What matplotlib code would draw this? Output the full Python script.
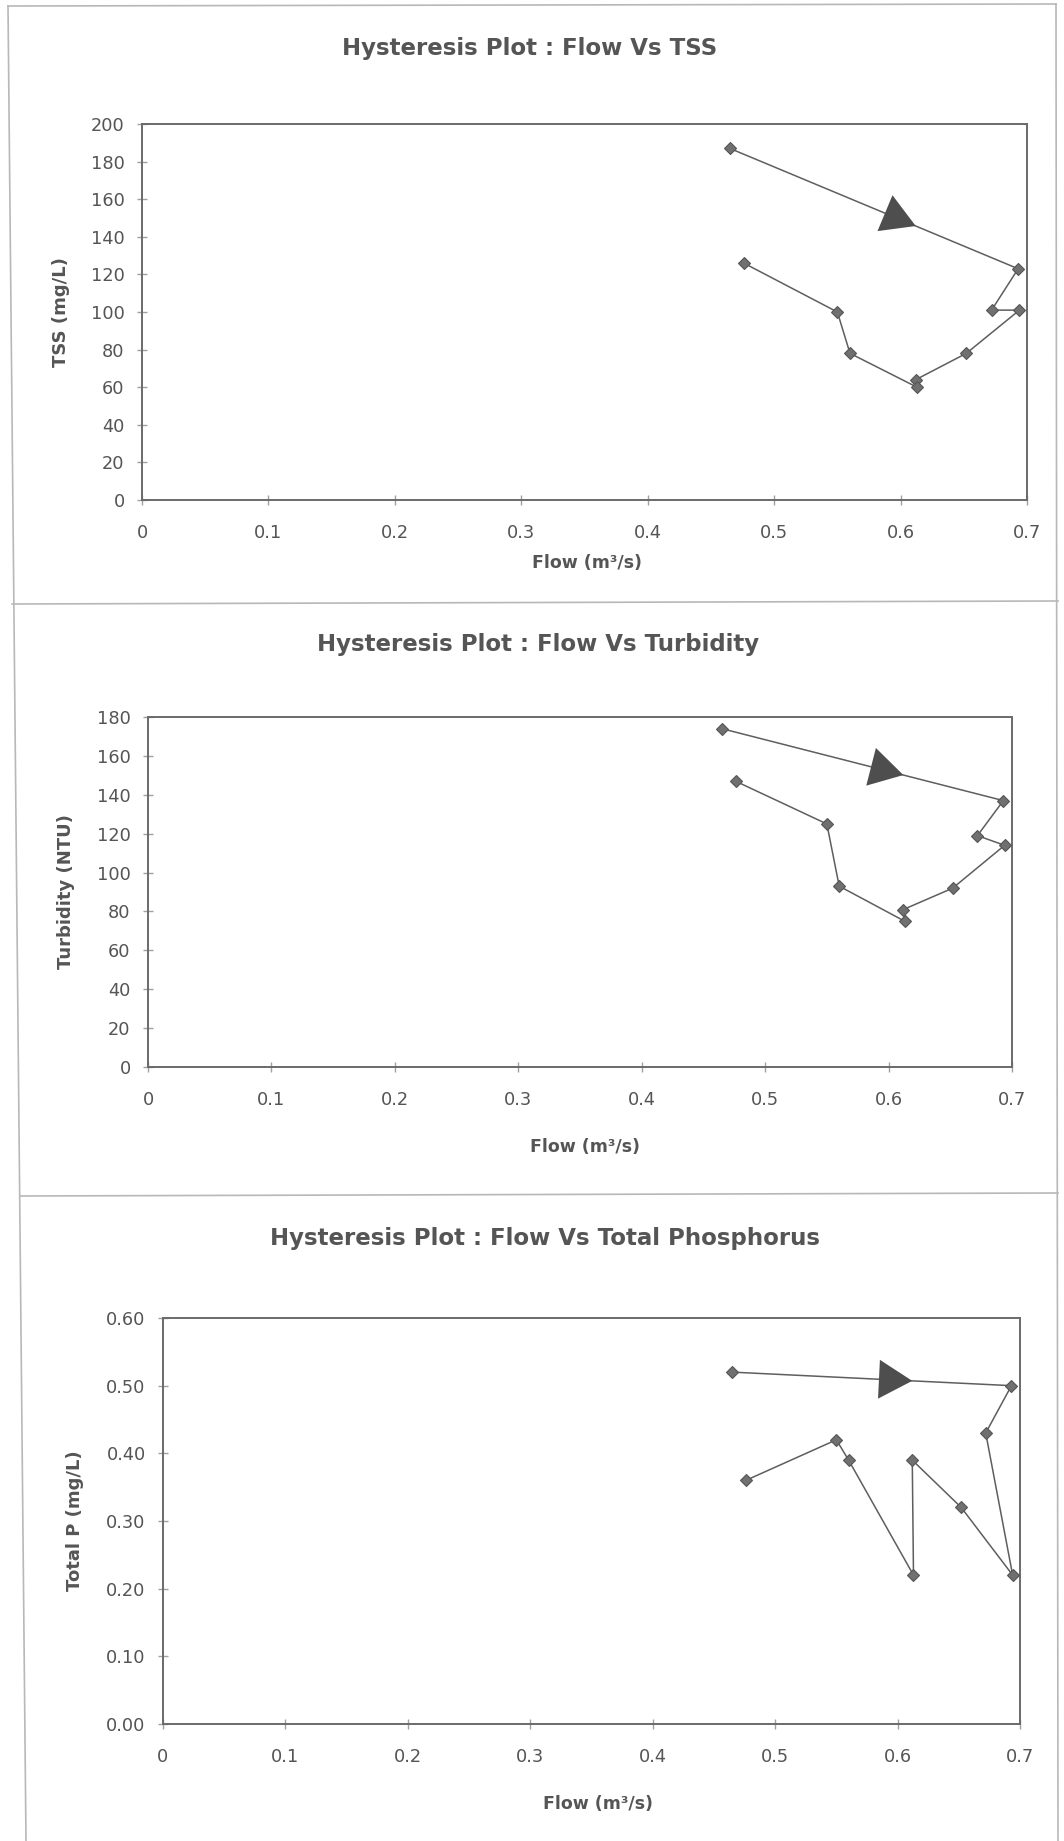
import numpy as np
import matplotlib.pyplot as plt
from matplotlib.lines import Line2D

plt.rcParams['font.family'] = ['DejaVu Sans']

# data (same storm event, same flow series)
flow = [0.465, 0.693, 0.672, 0.694, 0.652, 0.612, 0.613, 0.560, 0.550, 0.476]
tss = [187, 123, 101, 101, 78, 64, 60, 78, 100, 126]
turbidity = [174, 137, 119, 114, 92, 81, 75, 93, 125, 147]
total_p = [0.52, 0.50, 0.43, 0.22, 0.32, 0.39, 0.22, 0.39, 0.42, 0.36]

x_ticks = [0, 0.1, 0.2, 0.3, 0.4, 0.5, 0.6, 0.7]
x_tick_labels = ["0", "0.1", "0.2", "0.3", "0.4", "0.5", "0.6", "0.7"]
tss_ticks = [0, 20, 40, 60, 80, 100, 120, 140, 160, 180, 200]
turb_ticks = [0, 20, 40, 60, 80, 100, 120, 140, 160, 180]
tp_ticks = [0.0, 0.1, 0.2, 0.3, 0.4, 0.5, 0.6]
tp_tick_labels = ["0.00", "0.10", "0.20", "0.30", "0.40", "0.50", "0.60"]

titles = ["Hysteresis Plot : Flow Vs TSS",
          "Hysteresis Plot : Flow Vs Turbidity",
          "Hysteresis Plot : Flow Vs Total Phosphorus"]
ylabels = ["TSS (mg/L)", "Turbidity (NTU)", "Total P (mg/L)"]
xlabel = "Flow (m\u00b3/s)"
arrow_flow = 0.612  # arrow head tip sits on the rising limb at this flow

W, H = 1064, 1841
fig = plt.figure(figsize=(W / 100, H / 100), dpi=100)
fig.patch.set_facecolor("white")

grey_txt = "#555555"
line_col = "#5e5e5e"


def px(x, y):
    return x / W, 1 - y / H


# page / box lines of the scanned sheet
def page_line(x0, y0, x1, y1):
    a = px(x0, y0)
    b = px(x1, y1)
    fig.add_artist(Line2D([a[0], b[0]], [a[1], b[1]], color="#b8b8b8", lw=1.2))


page_line(8, 6, 1056, 4)
page_line(8, 6, 26, 1841)
page_line(1056, 4, 1058, 1841)
page_line(12, 604, 1058, 601)
page_line(20, 1196, 1058, 1193)


def panel(box, yvals, yticks, ylabels_txt, title, ylabel, title_xy, xlabel_xy, ylabel_xy):
    l, t, r, b = box
    ax = fig.add_axes([l / W, 1 - b / H, (r - l) / W, (b - t) / H])
    ax.plot(flow, yvals, color=line_col, lw=1.1, marker="D", ms=6.5,
            mfc="#707070", mec="#555555", mew=0.8, zorder=3, clip_on=False)

    # direction arrow on the first segment
    tip_y = np.interp(arrow_flow, flow[:2], yvals[:2])
    back_x = arrow_flow - 0.03
    back_y = np.interp(back_x, flow[:2], yvals[:2])
    ax.annotate("", xy=(arrow_flow, tip_y), xytext=(back_x, back_y),
                arrowprops=dict(arrowstyle="-|>,head_length=1.2,head_width=0.7",
                                color="#4e4e4e", lw=0, shrinkA=0, shrinkB=0,
                                mutation_scale=20), zorder=4)

    ax.set_xlim(0, 0.7)
    ax.set_ylim(0, yticks[-1])
    ax.set_xticks(x_ticks)
    ax.set_xticklabels(x_tick_labels)
    ax.set_yticks(yticks)
    ax.set_yticklabels(ylabels_txt)
    for s in ax.spines.values():
        s.set_color("#6a6a6a")
        s.set_linewidth(1.4)
    ax.tick_params(axis="both", direction="inout", length=7, width=1,
                   color="#a0a0a0", labelsize=12.8, labelcolor=grey_txt)
    ax.tick_params(axis="x", pad=14)
    ax.tick_params(axis="y", pad=9)

    fig.text(*px(*title_xy), title, ha="center", va="center",
             fontsize=16.5, fontweight="bold", color=grey_txt)
    fig.text(*px(*xlabel_xy), xlabel, ha="center", va="center",
             fontsize=12.5, fontweight="bold", color=grey_txt)
    fig.text(*px(*ylabel_xy), ylabel, ha="center", va="center", rotation=90,
             fontsize=13, fontweight="bold", color=grey_txt)
    return ax


panel((142, 124, 1027, 500), tss, tss_ticks, [str(v) for v in tss_ticks],
      titles[0], ylabels[0], (530, 49), (587, 563), (61, 312))
panel((148, 717, 1012, 1067), turbidity, turb_ticks, [str(v) for v in turb_ticks],
      titles[1], ylabels[1], (538, 645), (585, 1147), (66, 892))
panel((163, 1318, 1020, 1724), total_p, tp_ticks, tp_tick_labels,
      titles[2], ylabels[2], (545, 1238), (598, 1804), (75, 1521))

fig.savefig("out.png", dpi=100)
